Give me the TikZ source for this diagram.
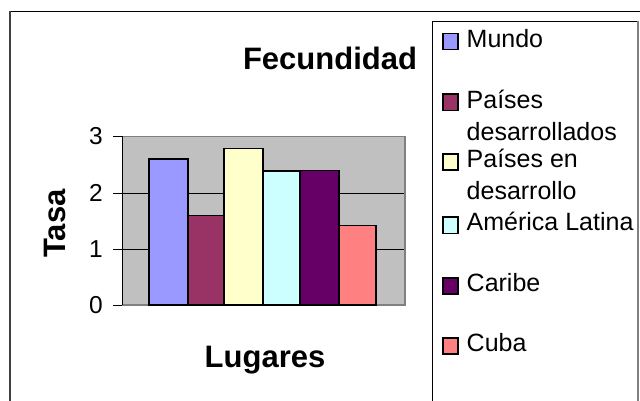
\documentclass[tikz,border=0pt]{standalone}
\usepackage{fontspec}
\setmainfont{Liberation Sans}
\definecolor{cmundo}{HTML}{9999FF}
\definecolor{cpdes}{HTML}{993366}
\definecolor{cpend}{HTML}{FFFFCC}
\definecolor{calat}{HTML}{CCFFFF}
\definecolor{ccar}{HTML}{660066}
\definecolor{ccuba}{HTML}{FF8080}
\definecolor{plotbg}{HTML}{C0C0C0}
\definecolor{edgegray}{HTML}{808080}
\definecolor{framegray}{HTML}{404040}
\begin{document}
\begin{tikzpicture}[x=1pt,y=-1pt,
  bar/.style={draw=black,line width=1.4pt},
  key/.style={draw=black,line width=1.2pt},
  legtxt/.style={anchor=base west,inner sep=0pt,font=\fontsize{25}{29}\selectfont},
  ticktxt/.style={anchor=east,inner sep=0pt,font=\fontsize{24.5}{29}\selectfont},
  bigtxt/.style={inner sep=0pt,font=\fontsize{31}{36}\selectfont\bfseries}]
\useasboundingbox (0,0) rectangle (640,401);
\clip (0,0) rectangle (640,401);
\fill[white] (0,0) rectangle (640,401);
% outer frame
\draw[black,line width=1pt] (10,11.5) -- (660,11.5);
\draw[framegray,line width=2pt] (10,11) -- (10,420);
% plot area
\fill[plotbg] (122,136.5) rectangle (405,305);
\draw[black,line width=0.8pt] (122,193) -- (405,193);
\draw[black,line width=0.8pt] (122,249) -- (405,249);
\draw[edgegray,line width=1.6pt] (122,136.5) -- (405,136.5) -- (405,305) -- (122,305);
\draw[black,line width=0.8pt] (122,136.5) -- (122,305);
\foreach \yy in {136.5,193,249,305} \draw[black,line width=0.8pt] (113,\yy) -- (122,\yy);
% bars
\draw[bar,fill=cmundo] (149,305) rectangle (188,159);
\draw[bar,fill=cpdes]  (188,305) rectangle (224,215.3);
\draw[bar,fill=cpend]  (224,305) rectangle (263,148.7);
\draw[bar,fill=calat]  (263,305) rectangle (300,171);
\draw[bar,fill=ccar]   (300,305) rectangle (339,170.7);
\draw[bar,fill=ccuba]  (339,305) rectangle (376,225.7);
% tick labels
\node[ticktxt] (t3) at (103,136.5) {3};
\node[ticktxt] (t2) at (103,193) {2};
\node[ticktxt] (t1) at (103,249) {1};
\node[ticktxt] (t0) at (103,305) {0};
% titles
\node[bigtxt] (title) at (330,58) {Fecundidad};
\node[bigtxt,anchor=base] (xlab) at (265,367) {Lugares};
\node[bigtxt,rotate=90] (ylab) at (55,223.5) {Tasa};
% legend
\draw[black,line width=1pt] (432,21.5) rectangle (637,430);
\draw[edgegray,line width=1.6pt] (638,21.5) -- (638,430);
\draw[key,fill=cmundo] (443,33.3) rectangle (458,49.3);
\node[legtxt] (l1) at (466.5,47.3) {Mundo};
\draw[key,fill=cpdes] (443,94) rectangle (458,110.5);
\node[legtxt] (l2a) at (466.5,109) {Países};
\node[legtxt] (l2b) at (466.5,140.7) {desarrollados};
\draw[key,fill=cpend] (443,154) rectangle (458,170);
\node[legtxt] (l3a) at (466.5,167.7) {Países en};
\node[legtxt] (l3b) at (466.5,199.3) {desarrollo};
\draw[key,fill=calat] (443,217) rectangle (458,233.5);
\node[legtxt] (l4) at (466.5,230.7) {América Latina};
\draw[key,fill=ccar] (443,278) rectangle (458,294);
\node[legtxt] (l5) at (466.5,291.7) {Caribe};
\draw[key,fill=ccuba] (443,338) rectangle (458,354);
\node[legtxt] (l6) at (466.5,351.7) {Cuba};
\end{tikzpicture}
\end{document}
